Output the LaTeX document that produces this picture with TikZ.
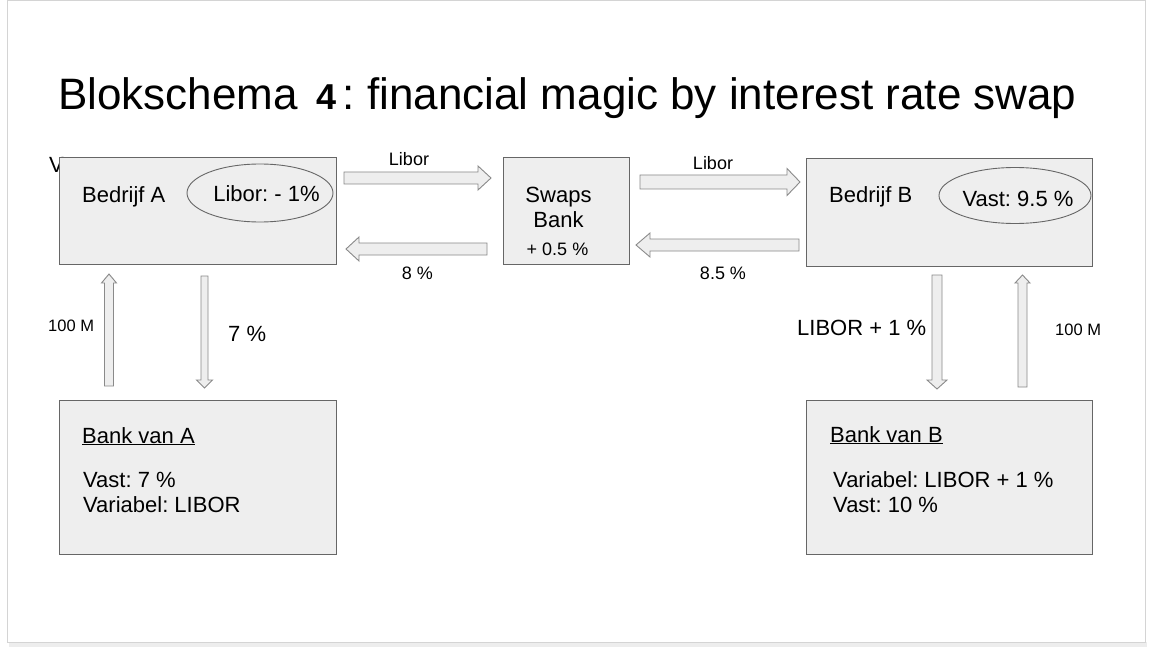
\documentclass[tikz,border=0pt]{standalone}
\usepackage{fontspec}
\setmainfont{Liberation Sans}
\usetikzlibrary{calc}
\definecolor{boxfill}{HTML}{EEEEEE}
\definecolor{boxline}{HTML}{666666}
\definecolor{arrline}{HTML}{8A8A8A}
\definecolor{frameline}{HTML}{D4D4D4}
\newcommand\fs[1]{\fontsize{#1}{#1}\selectfont}
\newcommand\blockarrow[5]{%
  \draw[blockarr] let \p1=(#1), \p2=(#2),
    \n1={veclen(\x2-\x1,\y2-\y1)},
    \n2={(\x2-\x1)/\n1}, \n3={(\y2-\y1)/\n1} in
    ({\x1-\n3*#3},{\y1+\n2*#3}) --
    ({\x2-\n2*#5-\n3*#3},{\y2-\n3*#5+\n2*#3}) --
    ({\x2-\n2*#5-\n3*#4},{\y2-\n3*#5+\n2*#4}) --
    (\p2) --
    ({\x2-\n2*#5+\n3*#4},{\y2-\n3*#5-\n2*#4}) --
    ({\x2-\n2*#5+\n3*#3},{\y2-\n3*#5-\n2*#3}) --
    ({\x1+\n3*#3},{\y1-\n2*#3}) -- cycle;}
\begin{document}
\begin{tikzpicture}[x=1pt,y=-1pt,
  box/.style={draw=boxline, fill=boxfill, line width=0.9pt, inner sep=0pt, anchor=north west},
  ovalline/.style={draw=boxline, line width=0.9pt},
  txt/.style={inner sep=0pt, anchor=base west, font=\frenchspacing},
  ctxt/.style={inner sep=0pt, anchor=base, font=\frenchspacing},
  blockarr/.style={draw=arrline, fill=boxfill, line width=0.9pt, line join=miter}]
\useasboundingbox (0,0) rectangle (1149,650);
\fill[white] (0,0) rectangle (1149,650);
\fill[black!7] (9,642) rectangle (1147,647);
\draw[frameline, fill=white, line width=1pt] (7,1) rectangle (1145,642);

% title
\node[txt] (title) at (58,110) {\fs{44}Blokschema\hspace{19pt}{\fs{36}\bfseries 4}\hspace{6pt}: financial magic by interest rate swap};

% partially hidden V
\node[txt] (v) at (49,173) {\fs{22}V};

% boxes
\node[box, minimum width=277pt, minimum height=107pt] (A) at (59,157) {};
\node[box, minimum width=126pt, minimum height=107pt] (S) at (503,157) {};
\node[box, minimum width=286pt, minimum height=108pt] (B) at (806,158) {};
\node[box, minimum width=277pt, minimum height=154pt] (BA) at (59,400) {};
\node[box, minimum width=286pt, minimum height=154pt] (BB) at (806,400) {};

% ovals
\coordinate (eA) at (260,193);
\coordinate (eB) at (1015,195.5);
\draw[ovalline] (eA) ellipse [x radius=73pt, y radius=29pt];
\draw[ovalline] (eB) ellipse [x radius=76pt, y radius=28pt];

% box texts
\node[txt] (tA) at (82,202) {\fs{22}Bedrijf A};
\node[ctxt] (tlA) at (266.5,201) {\fs{22}Libor: - 1\%};
\node[txt] (tB) at (829,202) {\fs{22}Bedrijf B};
\node[ctxt] (tvB) at (1018,206) {\fs{22}Vast: 9.5 \%};
\node[ctxt] (tS1) at (558.5,202) {\fs{22}Swaps};
\node[ctxt] (tS2) at (558.5,227) {\fs{22}Bank};
\node[ctxt] (tS3) at (557.5,255) {\fs{18}+ 0.5 \%};

\node[txt] (tBA1) at (82,443) {\fs{22}\underline{Bank van A}};
\node[txt] (tBA2) at (83,487) {\fs{22}Vast: 7 \%};
\node[txt] (tBA3) at (83,512) {\fs{22}Variabel: LIBOR};
\node[txt] (tBB1) at (830,442) {\fs{22}\underline{Bank van B}};
\node[txt] (tBB2) at (833,487) {\fs{22}Variabel: LIBOR + 1 \%};
\node[txt] (tBB3) at (833,512) {\fs{22}Vast: 10 \%};

% arrow end points
\coordinate (r1s) at (344,178);   \coordinate (r1e) at (491,178);
\coordinate (l1s) at (487,249);   \coordinate (l1e) at (346,249);
\coordinate (r2s) at (640,182);   \coordinate (r2e) at (800,182);
\coordinate (l2s) at (799,245);   \coordinate (l2e) at (636,245);
\coordinate (uAs) at (109,386);   \coordinate (uAe) at (109,274);
\coordinate (dAs) at (204.5,276); \coordinate (dAe) at (204.5,388);
\coordinate (dBs) at (937,275);   \coordinate (dBe) at (937,389);
\coordinate (uBs) at (1022.5,387);\coordinate (uBe) at (1022.5,275);

\blockarrow{r1s}{r1e}{6}{12}{13}
\blockarrow{l1s}{l1e}{6}{12}{13}
\blockarrow{r2s}{r2e}{7}{13.5}{13}
\blockarrow{l2s}{l2e}{6}{12}{14}
\blockarrow{uAs}{uAe}{4.5}{7.5}{9}
\blockarrow{dAs}{dAe}{3.5}{8}{8}
\blockarrow{dBs}{dBe}{5}{10}{9}
\blockarrow{uBs}{uBe}{4.5}{7.5}{8}

% arrow labels
\node[ctxt] (lb1) at (409,166) {\fs{18}Libor};
\node[ctxt] (lb2) at (417.5,279) {\fs{18}8 \%};
\node[ctxt] (lb3) at (713,170) {\fs{18}Libor};
\node[ctxt] (lb4) at (723,279) {\fs{18}8.5 \%};
\node[txt] (lb5) at (48,331) {\fs{16.5}100 M};
\node[txt] (lb6) at (228,341) {\fs{22}7 \%};
\node[txt] (lb7) at (797,335) {\fs{22}LIBOR + 1 \%};
\node[txt] (lb8) at (1055,335) {\fs{16.5}100 M};
\end{tikzpicture}
\end{document}
